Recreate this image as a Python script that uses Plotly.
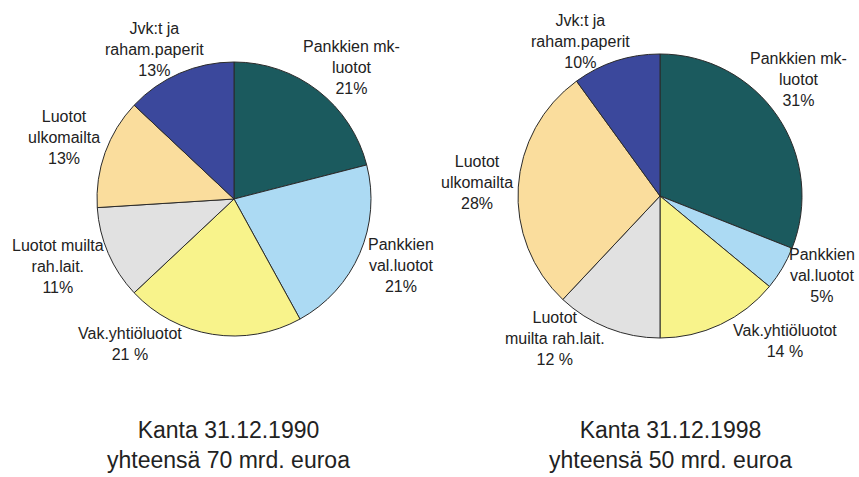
import plotly.graph_objects as go

W, H = 859, 477

categories = ["Pankkien mk-luotot", "Pankkien val.luotot", "Vak.yhtiöluotot",
              "Luotot muilta rah.lait.", "Luotot ulkomailta", "Jvk:t ja raham.paperit"]
values_1990 = [21, 21, 21, 11, 13, 13]
values_1998 = [31, 5, 14, 12, 28, 10]

labels_1990 = ["Pankkien mk-<br>luotot<br>21%", "Pankkien<br>val.luotot<br>21%",
               "Vak.yhtiöluotot<br>21 %", "Luotot muilta<br>rah.lait.<br>11%",
               "Luotot<br>ulkomailta<br>13%", "Jvk:t ja<br>raham.paperit<br>13%"]
labels_1998 = ["Pankkien mk-<br>luotot<br>31%", "Pankkien<br>val.luotot<br>5%",
               "Vak.yhtiöluotot<br>14 %", "Luotot<br>muilta rah.lait.<br>12 %",
               "Luotot<br>ulkomailta<br>28%", "Jvk:t ja<br>raham.paperit<br>10%"]

titles = ["Kanta 31.12.1990<br>yhteensä 70 mrd. euroa",
          "Kanta 31.12.1998<br>yhteensä 50 mrd. euroa"]

colors = ["#1b5a5e", "#acdaf3", "#f8f38b", "#e1e1e1", "#fadd9d", "#3b489c"]

# layout (pixel positions of label centres)
label_pos_1990 = [(351, 67), (401, 265), (130, 344), (58, 266), (64, 137), (154, 49)]
label_pos_1998 = [(798, 79), (822, 275), (785, 341), (555, 338), (477, 182), (580, 42)]
title_pos = [(228, 445), (670, 445)]

def dom(cx, cy, r):
    return dict(x=[(cx - r) / W, (cx + r) / W],
                y=[(H - cy - r) / H, (H - cy + r) / H])

fig = go.Figure()
for vals, d in [(values_1990, dom(234, 199, 137)), (values_1998, dom(660, 196, 142))]:
    fig.add_trace(go.Pie(
        labels=categories, values=vals, sort=False, direction="clockwise",
        rotation=0, textinfo="none", hoverinfo="label+percent",
        marker=dict(colors=colors, line=dict(color="#2b2b2b", width=1)),
        domain=d, showlegend=False))

font_family = "Liberation Sans, Arial, sans-serif"
annotations = []
for labels, poss in [(labels_1990, label_pos_1990), (labels_1998, label_pos_1998)]:
    for t, (px, py) in zip(labels, poss):
        annotations.append(dict(text=t, x=px / W, y=1 - py / H, xref="paper", yref="paper",
                                xanchor="center", yanchor="middle", align="center",
                                showarrow=False,
                                font=dict(family=font_family, size=16, color="#222222")))
for t, (px, py) in zip(titles, title_pos):
    annotations.append(dict(text=t, x=px / W, y=1 - py / H, xref="paper", yref="paper",
                            xanchor="center", yanchor="middle", align="center",
                            showarrow=False,
                            font=dict(family=font_family, size=23, color="#222222")))

fig.update_layout(width=W, height=H, margin=dict(l=0, r=0, t=0, b=0),
                  paper_bgcolor="white", plot_bgcolor="white",
                  annotations=annotations)
fig.write_html("out.html", config={"displayModeBar": False},
               post_script="document.body.style.margin='0';document.body.style.overflow='hidden';")
